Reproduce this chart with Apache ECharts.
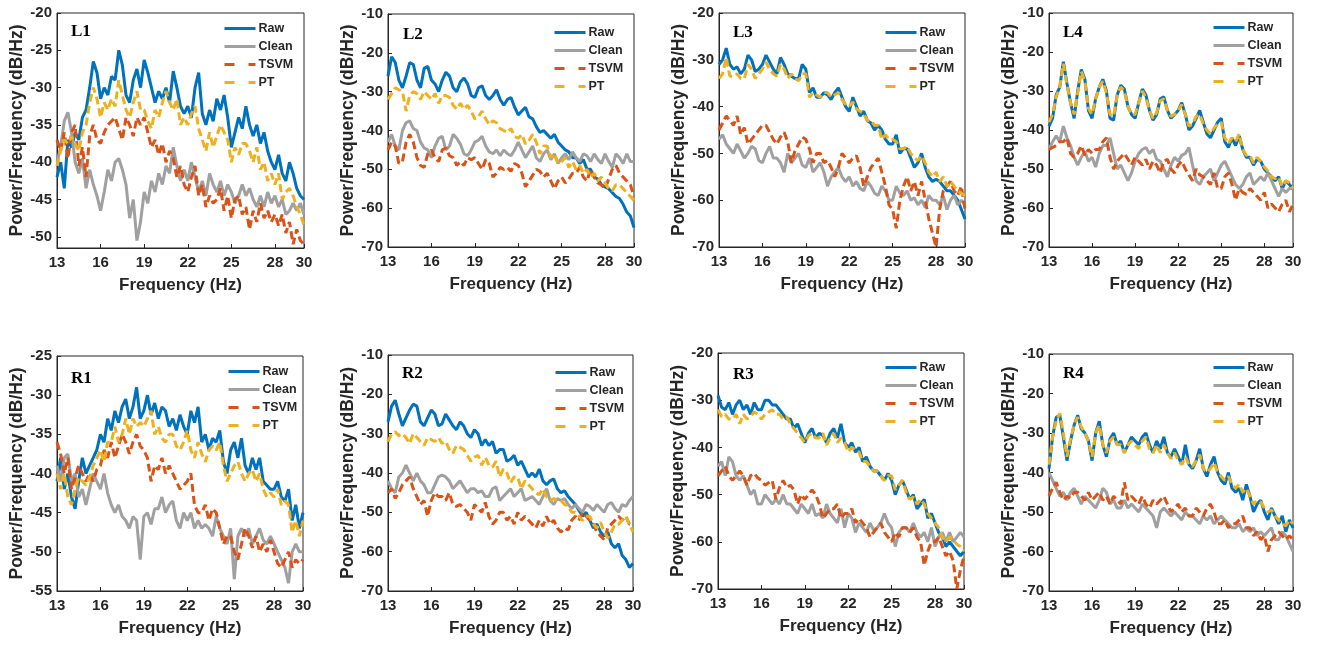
<!DOCTYPE html>
<html><head><meta charset="utf-8">
<script src="https://cdn.jsdelivr.net/npm/echarts@6/dist/echarts.min.js"></script>
<style>html,body{margin:0;padding:0;background:#fff}#c{width:1318px;height:645px}</style>
</head><body><div id="c"></div>
<script>
const freq = [13,13.25,13.5,13.75,14,14.25,14.5,14.75,15,15.25,15.5,15.75,16,16.25,16.5,16.75,17,17.25,17.5,17.75,18,18.25,18.5,18.75,19,19.25,19.5,19.75,20,20.25,20.5,20.75,21,21.25,21.5,21.75,22,22.25,22.5,22.75,23,23.25,23.5,23.75,24,24.25,24.5,24.75,25,25.25,25.5,25.75,26,26.25,26.5,26.75,27,27.25,27.5,27.75,28,28.25,28.5,28.75,29,29.25,29.5,29.75,30];
const xTicks = [13,16,19,22,25,28,30];
const seriesNames = ['Raw','Clean','TSVM','PT'];
const panelNames = ['L1','L2','L3','L4','R1','R2','R3','R4'];

const L1_raw = [-42,-40,-43.5,-37, -38,-36,-37,-34, -33,-30,-26.5,-28, -31.5,-30,-31,-28.5, -29,-25,-27,-31, -32,-29,-27.5,-30, -26.3,-28,-30,-32, -30.5,-31.5,-30,-32, -27.8,-30,-32.5,-33.5, -32.5,-34,-30,-28, -33.5,-35,-33,-34.5, -31.5,-33,-31,-34, -38,-36,-34,-35.5, -32.5,-35,-36.5,-35, -37.5,-36,-38.5,-40, -41,-39,-41.5,-42.5, -40,-41.5,-43.5,-44.5, -45];
const L1_clean = [-40,-38,-34.5,-33.3, -36,-40,-41.5,-39.5, -43.5,-41,-43,-44.5, -46.5,-44,-41,-42.5, -40,-39.5,-41,-43, -47.5,-45,-50.5,-48, -44,-45.5,-42.5,-44, -41.5,-43,-40.5,-41.5, -38,-40.5,-42.5,-41, -42.5,-40,-42,-44, -42.5,-44.5,-41.5,-43, -44,-42.5,-44.5,-43, -44,-45.5,-44.5,-43, -44.5,-43.5,-45,-46, -44.5,-46,-44,-45.5, -44.5,-46,-45,-47, -46.5,-45.5,-46.5,-45.5, -47];
const L1_tsvm = [-37,-38.5,-36,-39.5, -36,-35,-40.5,-38, -42,-36.5,-35,-37, -37.5,-36,-35,-34.5, -34,-35.5,-37,-34, -35,-36.5,-34,-35, -34,-36,-38,-37, -39,-37.5,-40,-38.5, -39.5,-42,-40.5,-43, -44,-42,-40.5,-44.5, -43,-46,-44.5,-45.5, -45,-43.5,-46.5,-44.5, -47.5,-45,-44.5,-47, -46,-49,-46.5,-48, -45.5,-47.5,-46.5,-48, -47,-48.5,-47,-49.5, -48,-51,-49,-50.5, -51];
const L1_pt = [-40.5,-38.5,-37,-37.5, -36.5,-37.5,-38.5,-36, -35,-32,-30,-31.5, -34,-32,-33,-31.5, -32.5,-29,-31,-33, -34,-32,-30.5,-33, -33,-34.5,-35.5,-33, -34,-32,-30.5,-32, -33,-31.5,-35,-34, -35,-33.5,-32.5,-35.5, -37,-38.5,-36,-38, -36.5,-35,-36,-37, -40,-38,-39,-37.5, -37.5,-38.5,-40,-38, -41,-40,-42.5,-41.5, -43,-41.5,-45,-44, -43.5,-44.5,-46,-47, -48.5];

const L2_raw = [-26,-21,-22.5,-27, -29,-26,-22.5,-23, -27,-29,-24,-23.5, -27,-28,-30,-27, -25,-26,-29,-30, -27.5,-26.5,-28,-31, -31.5,-29,-28.5,-31, -32,-31,-29.5,-32, -33.5,-32,-31.5,-34, -36,-35,-34,-36.5, -37,-39,-40.5,-40, -41,-42,-41,-43, -44,-45,-45.5,-47, -47,-48.5,-47.5,-50, -50,-52,-52.5,-54, -54.5,-55,-56,-57, -57.5,-59,-61,-62, -65];
const L2_clean = [-43,-41,-44,-45, -40,-38,-37.5,-39.5, -40,-43,-44.5,-45, -47,-44,-42,-41.5, -45,-44,-41,-42, -43.5,-46,-46.5,-45, -43,-42.5,-41.5,-44, -45.5,-46,-45,-46.5, -45,-46,-46.5,-45, -43,-45,-47,-45.5, -44,-47,-48,-46, -45,-47.5,-46,-48.5, -47,-46,-47.5,-45.5, -47,-48,-46,-46.5, -48,-46,-47.5,-48.5, -46,-48,-49.5,-46, -47,-48.5,-46,-48, -48];
const L2_tsvm = [-45,-43,-44,-48.5, -48,-43,-41,-43, -47,-49,-49.5,-46, -45,-47,-48,-45, -44.5,-46.5,-47,-49, -48,-49,-47,-47.5, -47,-48.5,-50,-47.5, -48.5,-52,-51,-49.5, -50,-49.5,-50.5,-48.5, -49,-51,-54.5,-53, -51.5,-50,-50.5,-52, -51,-53,-55,-53, -52,-53.5,-52.5,-51, -51,-49.5,-52,-53, -50,-52,-53.5,-54, -55,-52.5,-50,-49, -51,-52,-53,-54, -57];
const L2_pt = [-32,-30.5,-29,-29.5, -30,-35,-31,-30, -30.5,-32,-30,-31, -32,-30.5,-33,-31, -31,-31.5,-33.5,-34.5, -33,-34.5,-33.5,-35, -37,-36.5,-35,-37, -38.5,-37.5,-38,-39.5, -40,-40.5,-39.5,-41.5, -42,-41,-43.5,-42.5, -41,-43,-46,-44, -44,-47,-46,-48.5, -48,-47,-49.5,-48, -50,-49,-51,-50, -52,-51,-53,-52, -53.5,-55,-55.5,-54, -54,-55,-56,-57, -58];

const L3_raw = [-31,-30,-27.5,-31, -32,-31.5,-33,-32, -29,-30,-32.5,-32, -31,-29,-30.5,-32, -33,-29.5,-31,-33, -33.5,-34,-34,-31, -32,-37,-36,-38, -38,-37,-37.5,-38.5, -37,-36,-38,-40, -41,-38,-40,-42, -41,-43,-43.5,-45, -44,-45,-47,-48, -48,-46,-50,-49, -49,-51,-53,-52, -50,-53,-55,-56, -55.5,-56,-57,-58, -58,-59,-60,-62, -64];
const L3_clean = [-47,-46,-48,-49, -50,-48,-49.5,-51, -50,-48.5,-49,-51.5, -52,-50,-48.5,-51, -51,-52,-54,-50, -52,-51,-50,-52.5, -53,-51,-54,-53, -52,-54,-57,-55, -54,-53,-55,-56, -55,-57,-56,-57.5, -58,-56,-57,-58.5, -59,-57,-58,-60, -60,-57,-58.5,-59, -58,-60,-59.5,-61, -60,-61.5,-59,-60, -60,-61,-59,-62, -60,-59,-61,-60, -61];
const L3_tsvm = [-45,-43.5,-42,-43, -44,-42,-46,-44.5, -48,-47,-46,-45, -44,-44,-45.5,-47, -48,-46.5,-45.5,-47.5, -52,-49.5,-48,-46.5, -47,-49,-52,-50, -50,-52,-51.5,-53, -55,-53,-50,-51, -52,-51,-50.5,-53, -57,-55,-53,-52, -51,-54,-57,-61, -62,-66,-60,-57, -55,-58,-56,-59, -56,-60,-64,-67, -70,-62,-58,-57, -56,-58,-59,-57, -62];
const L3_pt = [-34,-33,-29.5,-33.5, -33.5,-33,-34,-34, -31,-32,-34,-33, -32,-30.5,-32,-33, -33.5,-31,-32,-34, -33,-34,-34.5,-33, -33,-38,-37,-37.5, -38,-37,-37,-38, -37.5,-37,-38.5,-39.5, -40,-39,-40.5,-41, -41.5,-43,-43,-44, -44,-47,-46,-47, -47,-47.5,-49,-49, -48.5,-50,-51,-51.5, -50.5,-52,-54,-55, -54,-56,-55,-57, -56,-57,-58,-58.5, -59];

const L4_raw = [-39,-37,-31,-29, -22.5,-28,-33,-37, -30,-24.5,-27,-35, -37,-32,-29,-27, -30,-37,-37.5,-31, -28.5,-29.5,-34,-36, -37,-33,-29.5,-31, -35,-37.5,-36,-32, -31.5,-35,-37,-36, -35,-33,-36,-40, -39,-37,-35,-38, -41,-42,-40,-38, -37,-43,-44.5,-42, -44,-41.5,-45,-47, -47,-49,-47.5,-48, -50,-51,-52,-53, -52,-55,-53,-54, -55];
const L4_clean = [-45,-43,-41.5,-43, -39,-42,-44,-47, -49,-47,-45.5,-48, -47,-49.5,-46,-44, -44,-42,-46,-50, -49,-51,-53,-51, -48,-46,-45,-44.5, -46,-45,-47.5,-48, -50,-52,-49,-47, -48,-46.5,-46,-44.5, -49,-53,-54,-52, -51,-50,-53,-51, -49,-48,-50,-52, -54,-55,-54,-52, -51,-54,-53,-52, -53,-51,-53,-55, -57,-55,-56,-55, -55];
const L4_tsvm = [-45,-44.5,-44,-43, -43,-42,-46,-47, -46,-44,-46.5,-45, -46,-45,-45,-43, -42,-47,-50,-48, -47,-46,-47.5,-49, -47,-48,-49,-47.5, -50,-48,-49,-51, -48,-47.5,-50,-51, -49,-48,-50,-51.5, -53,-50,-51.5,-52, -53,-54,-51,-55, -55,-52,-51,-54, -58,-55,-56,-56.5, -55,-56,-57,-58, -56,-60,-59,-60, -61,-59,-58,-61, -59];
const L4_pt = [-38,-36,-31.5,-29, -23,-28.5,-33,-36, -30.5,-25,-27.5,-34.5, -36,-32,-29,-27.5, -30.5,-36,-36.5,-31, -29,-30,-34,-36, -36,-33,-30,-31.5, -35,-37,-35.5,-32.5, -32,-35,-36.5,-36, -35,-33.5,-36,-39, -38.5,-36.5,-36,-38.5, -40,-41,-39.5,-38.5, -38,-42,-43.5,-42, -43,-41,-45,-46.5, -46.5,-48.5,-47,-48, -49.5,-50.5,-52,-52.5, -52,-54.5,-53,-53.5, -55];

const R1_raw = [-41,-38,-42,-40, -43,-44.5,-41,-38, -40,-39,-38,-37, -35,-36,-33,-34.5, -32,-33.5,-31.5,-30.5, -33,-31.5,-29,-33, -32,-30,-32.5,-31, -33,-31.5,-32,-34, -33,-34.5,-32.5,-34, -35,-32,-33.5,-31.5, -36,-35,-37,-35.5, -36,-34.5,-38.5,-40, -37,-36,-38,-35.5, -39,-40,-38,-39.5, -38,-41,-41.5,-42, -42,-41,-43,-43.5, -42,-46,-44,-47, -45];
const R1_clean = [-39,-41,-38,-37.5, -41,-40,-43,-42, -44,-42,-40,-41, -42,-40,-42.5,-44, -45,-44,-45.5,-46, -47,-45.5,-46,-51, -45.5,-45,-46.5,-44.5, -44.5,-43,-45,-44, -43.5,-46,-47,-45, -46,-45,-47,-46, -47,-46.5,-47,-48, -45.5,-47,-48,-49, -47,-53.5,-48,-47, -48,-47,-49,-48, -47,-48.5,-49,-48, -49,-50,-51,-52, -54,-50,-49,-50, -50];
const R1_tsvm = [-36,-37.5,-40,-38, -42,-40.5,-39,-40, -41,-40,-41,-39.5, -39,-37,-38,-36, -38,-36.5,-35,-36, -37.5,-36,-35,-36.5, -37,-38,-41,-39, -39.5,-38,-40,-39, -40,-41,-42,-41.5, -41,-40,-44,-45, -45,-44,-46,-44.5, -45,-47,-49,-48, -48,-50,-51,-49, -47,-48,-49.5,-48, -50,-49,-50,-48.5, -50,-51.5,-52,-51, -50,-52,-51,-51.5, -51];
const R1_pt = [-40,-42,-40,-43, -44,-42,-40.5,-41, -41.5,-40.5,-39,-38, -37,-38.5,-36,-36, -34,-36,-35,-33, -35,-33,-34,-33.5, -34,-33,-32,-35, -34,-35.5,-36,-35, -35,-36.5,-37,-36, -34.5,-37,-38,-36, -37.5,-38.5,-37,-36.5, -37,-36,-39,-41, -40,-39,-38.5,-40, -41,-40,-39.5,-41, -40,-42,-43,-42.5, -43,-42,-44,-43.5, -44,-47.5,-46,-48, -46];

const R2_raw = [-27,-23,-21.5,-25, -28,-26,-24,-22.5, -23,-27,-28,-26, -24,-25,-28,-27.5, -25,-26.5,-28,-29, -27,-28,-30,-31, -29,-30,-33,-31.5, -33,-32,-35,-34, -34,-37,-36.5,-35.5, -38,-37,-39,-41, -40,-41,-39,-42, -43,-42,-41.5,-44, -45,-44.5,-46,-47, -48,-49.5,-51,-50, -52,-54,-53,-55, -56,-55,-58,-59, -58,-61,-62,-64, -63];
const R2_clean = [-42,-44,-45,-41, -40,-38,-40,-42, -40,-42,-43,-45, -45,-43,-41,-40.5, -41,-42,-44,-43, -42,-43.5,-45,-44, -44,-45,-44.5,-46, -46,-44,-43.5,-47, -46,-45,-44,-46, -45,-44,-47,-46.5, -46,-47,-48,-46, -44,-47,-48,-46.5, -47,-46.5,-48,-49, -48,-49,-50,-48, -48.5,-49.5,-48,-49, -50,-48,-47.5,-49, -50,-48,-48.5,-47, -46];
const R2_tsvm = [-45,-44,-46.5,-45, -43,-42,-41,-44, -46,-48,-47,-51, -47,-45,-46,-46, -47,-45,-48,-48.5, -48,-49,-50,-52, -48,-49,-50,-47.5, -51,-53,-52,-50, -50,-52,-51,-53, -50,-52,-51,-52, -53,-54,-52,-53.5, -51,-53,-52,-54, -55,-54,-54.5,-52, -51,-52,-50,-51, -52,-53,-55,-56, -57,-54,-53,-52, -51,-52,-51,-53, -53];
const R2_pt = [-32,-30,-29.5,-30.5, -30,-31,-32.5,-30, -31,-32,-33,-31, -31.5,-32,-31,-32.5, -32,-34,-35,-33, -33.5,-34,-35.5,-37, -36,-35.5,-38,-36, -38,-38.5,-37,-41, -39,-40,-42.5,-41, -41,-44,-42,-43, -44,-45,-45.5,-44, -46,-47,-46.5,-47, -47,-48,-48.5,-50, -50,-51,-52,-51, -51,-53,-54,-52.5, -55,-56.5,-55,-53, -53,-52,-51,-53, -55];

const R3_raw = [-29,-31.5,-32,-30.5, -33,-31,-30,-32, -31,-33,-30.5,-32, -32,-30,-30,-31, -31,-32,-33,-34, -34,-36,-35,-37, -39,-37,-36,-38, -37,-37.5,-39,-37, -36,-38,-35,-39, -40,-39,-41,-40, -43,-42,-44,-45, -45,-46,-47,-45.5, -47,-50,-48,-47, -49,-51,-50,-53, -52,-51,-55,-54, -56,-58,-59,-61, -60,-61,-62,-63, -62];
const R3_clean = [-44,-43,-46,-42, -43,-46,-47,-46, -48,-50,-49,-52, -52,-50,-51,-52, -51,-52,-50,-52, -52,-53,-54,-52, -53,-54,-52,-54.5, -54,-55,-52,-54, -55,-56,-53,-57, -54,-55,-58,-56, -57,-58,-56,-57.5, -57,-56,-54,-56, -57,-61,-58,-57, -57,-58,-56,-58, -59,-58,-60,-57, -61,-59,-58,-60, -58,-60,-59,-58, -59];
const R3_tsvm = [-46,-45,-44,-46, -47,-46,-45,-46, -48,-46,-45.5,-46.5, -47,-48,-47.5,-47, -51,-48.5,-47,-48.5, -48,-49,-52,-50, -51,-50,-49,-50, -52,-55,-54,-53, -53,-52,-55,-54, -54,-53,-56,-55, -56,-57,-59,-58, -57,-56,-58,-59, -60,-58,-59,-57, -57,-58,-57,-59, -60,-65,-62,-60, -60,-59,-61,-63, -62,-64,-70,-66, -63];
const R3_pt = [-32,-33.5,-33,-34, -34,-33,-35,-33, -34,-33.5,-32.5,-33, -34,-33,-32.5,-32, -33,-33,-34,-33.5, -35,-36,-37,-38, -39,-37.5,-37,-38, -38,-37,-39.5,-38, -37,-39,-38,-39, -41,-40,-40.5,-41, -43,-43,-44,-45, -45,-46,-47,-46, -46,-49,-48,-47, -49.5,-51,-50.5,-52, -51,-52,-54,-55, -56,-57,-59,-60, -59,-59.5,-60.5,-61, -62];

const R4_raw = [-39,-31,-26,-25.5, -31,-37,-32,-28, -25.5,-29,-30,-32, -37,-30,-27,-33, -36,-31.5,-30,-33, -32,-35,-33,-31, -32,-33,-31,-30, -33,-35,-32,-34, -31,-35,-36,-34, -36,-38,-33,-38, -39,-37,-34,-39, -41,-38,-36,-40, -42,-43,-40,-44, -45,-44,-47,-43, -46,-50,-48,-47, -50,-52,-49,-51, -53,-51,-55,-52, -54];
const R4_clean = [-40,-42,-44,-46, -45,-47,-45,-44, -46,-48,-46,-47, -48,-49,-47,-44, -45,-48,-47,-49, -49,-47,-49,-48, -49,-50,-48,-49, -50,-51,-54,-50, -49,-50,-51,-50, -51,-52,-50,-51, -51,-52,-53,-51, -52,-51,-53,-52, -51,-52,-53,-54, -54,-53,-55,-54, -55,-54,-56,-55, -56,-55,-54,-57, -57,-55,-56,-58, -60];
const R4_tsvm = [-46,-44,-42.5,-45, -47,-46,-46.5,-45, -45,-46,-47,-45, -47,-46,-45,-47, -46,-48,-46,-47, -48,-42.5,-47,-46, -47,-48,-46,-48, -49,-47,-48,-47, -46,-48,-50,-49, -48,-50,-49,-51, -51,-49,-50,-51, -49,-48,-50,-53, -53,-52,-54,-53, -53,-52,-51,-54, -54,-56,-55,-57, -56,-60,-57,-56, -55,-56,-57,-56, -57];
const R4_pt = [-38,-31,-27,-25, -30,-36,-31.5,-28, -26,-28.5,-30,-32, -36,-30,-28,-33, -35,-32,-31,-33, -33,-35,-33,-32, -33,-34,-32,-31, -34,-35,-33,-35, -33,-35,-36.5,-35, -37,-38,-36,-38, -38.5,-37,-35.5,-39, -40,-39,-37.5,-40, -41,-42,-41,-43, -44,-43,-45,-44, -46,-48,-47,-47.5, -49,-50,-49.5,-51, -52,-53,-53.5,-52, -53];

const yTicks1 = [-50,-45,-40,-35,-30,-25,-20];
const yTicksA = [-70,-60,-50,-40,-30,-20,-10];
const yTicksB = [-70,-60,-50,-40,-30,-20];
const yTicksR1 = [-55,-50,-45,-40,-35,-30,-25];

const panelData = [
  [L1_raw,L1_clean,L1_tsvm,L1_pt],[L2_raw,L2_clean,L2_tsvm,L2_pt],
  [L3_raw,L3_clean,L3_tsvm,L3_pt],[L4_raw,L4_clean,L4_tsvm,L4_pt],
  [R1_raw,R1_clean,R1_tsvm,R1_pt],[R2_raw,R2_clean,R2_tsvm,R2_pt],
  [R3_raw,R3_clean,R3_tsvm,R3_pt],[R4_raw,R4_clean,R4_tsvm,R4_pt]
];
const yRange = [[-51.5,-20,yTicks1],[-70,-10,yTicksA],[-70,-20,yTicksB],[-70,-10,yTicksA],
                [-55,-25,yTicksR1],[-70,-10,yTicksA],[-70,-20,yTicksB],[-70,-10,yTicksA]];

// layout (pixels)
const grids = [
  {left:57, top:13, width:247, height:235}, {left:388, top:14, width:246, height:233},
  {left:719, top:13, width:246, height:234}, {left:1049, top:13, width:244, height:234},
  {left:57, top:356, width:246, height:235}, {left:388, top:355, width:245, height:236},
  {left:718, top:353, width:246, height:236}, {left:1049, top:354, width:244, height:237}
];
const legendPos = [[223,22],[553,26],[884,26],[1212,21],[227,365],[554,366],[884,361],[1212,361]];
const labelPos = [[71,23],[403,26],[733,24],[1063,24],[71,370],[402,365],[733,366],[1063,365]];

const colors = ['#0072BD','#A0A0A0','#D95319','#EDB120'];
const dashes = ['solid','solid',[8,4],[8,4]];
const legendDashes = ['solid','solid',[10,14],[10,14]];
const FONT = '"Liberation Sans", Arial, sans-serif';

const option = {
  animation:false,
  backgroundColor:'#fff',
  grid: grids.map(g => Object.assign({show:true, borderColor:'#262626', borderWidth:1, containLabel:false}, g)),
  xAxis: grids.map((g,i) => ({
    type:'value', gridIndex:i, min:13, max:30,
    name:'Frequency (Hz)', nameLocation:'middle', nameGap:29,
    nameTextStyle:{fontSize:17, fontWeight:'bold', color:'#262626', fontFamily:FONT},
    axisLine:{show:true, lineStyle:{color:'#262626', width:1}},
    axisTick:{show:true, inside:true, length:4, customValues:xTicks, lineStyle:{color:'#262626'}},
    axisLabel:{fontSize:15, fontWeight:'bold', color:'#262626', fontFamily:FONT, margin:7, customValues:xTicks},
    splitLine:{show:false}
  })),
  yAxis: grids.map((g,i) => ({
    type:'value', gridIndex:i, min:yRange[i][0], max:yRange[i][1],
    name:'Power/Frequency (dB/Hz)', nameLocation:'middle', nameGap:31,
    nameTextStyle:{fontSize:17.5, fontWeight:'bold', color:'#262626', fontFamily:FONT},
    axisLine:{show:true, lineStyle:{color:'#262626', width:1}},
    axisTick:{show:true, inside:true, length:4, customValues:yRange[i][2], lineStyle:{color:'#262626'}},
    axisLabel:{fontSize:15, fontWeight:'bold', color:'#262626', fontFamily:FONT, margin:5, customValues:yRange[i][2]},
    splitLine:{show:false}
  })),
  legend: legendPos.map(p => ({
    left:p[0], top:p[1], orient:'vertical', itemWidth:31, itemHeight:12, itemGap:5, padding:0,
    data: seriesNames.map((n,k) => ({name:n, lineStyle:{width:3, type:legendDashes[k], color:colors[k]}})),
    selectedMode:false,
    itemStyle:{opacity:0, color:'rgba(0,0,0,0)', borderWidth:0},
    textStyle:{fontSize:12.5, fontWeight:'bold', color:'#262626', fontFamily:FONT, padding:[0,0,0,-2]}
  })),
  graphic: panelNames.map((n,i) => ({
    type:'text', left:labelPos[i][0], top:labelPos[i][1], z:100,
    style:{text:n, font:'bold 17px "Liberation Serif", "Times New Roman", serif', fill:'#000'}
  })),
  series: []
};
panelData.forEach((arrs,i) => {
  arrs.forEach((arr,k) => {
    option.series.push({
      type:'line', name:seriesNames[k], xAxisIndex:i, yAxisIndex:i,
      data: freq.map((f,j) => [f, arr[j]]),
      symbol:'none', clip:true,
      lineStyle:{color:colors[k], width:3, type:dashes[k]},
      itemStyle:{color:colors[k]},
      z: 2 + k
    });
  });
});
const chart = echarts.init(document.getElementById('c'), null, {renderer:'canvas'});
chart.setOption(option);
</script></body></html>
